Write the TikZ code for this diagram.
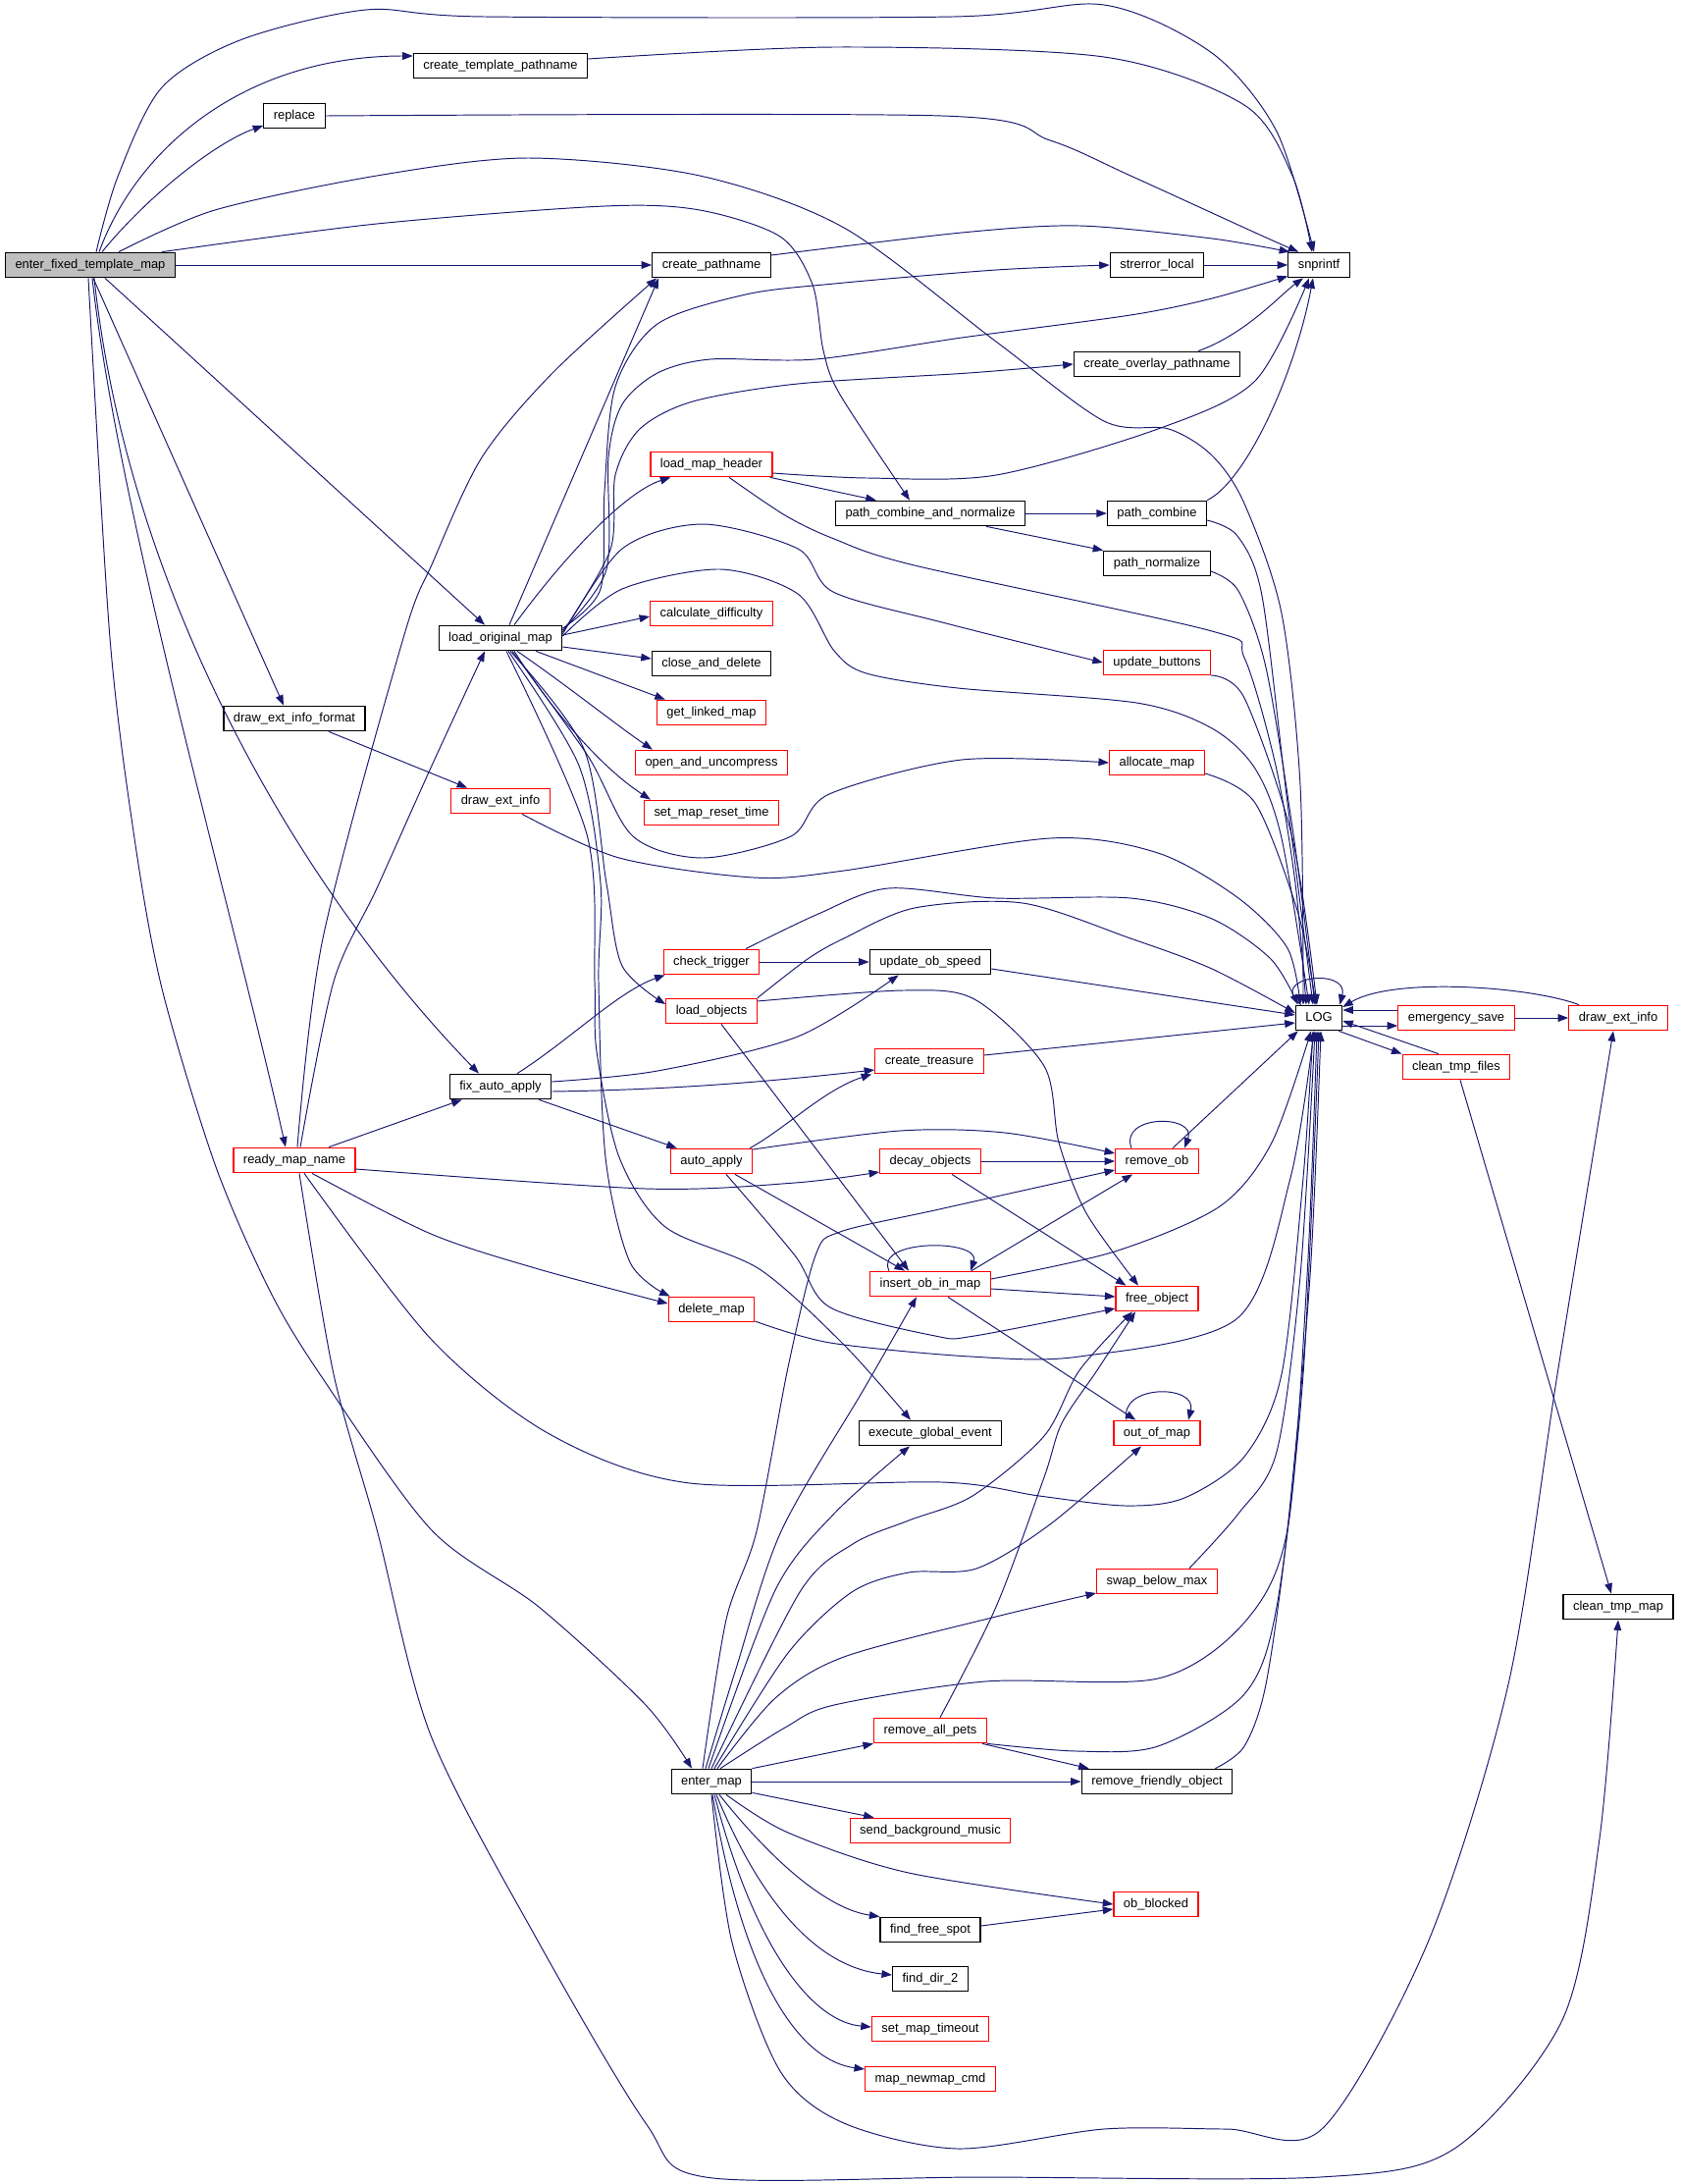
\documentclass[tikz,border=0pt]{standalone}
\usepackage{fontspec}
\setmainfont{Liberation Sans}
\usetikzlibrary{arrows.meta,calc}
\definecolor{edgeblue}{HTML}{191970}
\definecolor{rootgray}{HTML}{BFBFBF}

\begin{document}
\begin{tikzpicture}[x=0.02cm,y=-0.02cm]
    % Styles
    \tikzset{
        fn/.style={rectangle, draw=black, fill=white, line width=0.7pt, inner xsep=0.2cm, inner ysep=0pt, minimum height=0.51cm, text height=5.3pt, text depth=1.5pt, font=\fontsize{7.35}{8.8}\selectfont},
        fnred/.style={fn, draw=red},
        fnroot/.style={fn, fill=rootgray},
        call/.style={draw=edgeblue, line width=0.55pt, -{Triangle[length=6pt,width=4.4pt]}}
    }
    \fill[white] (0,0) rectangle (1712,2225);
    \useasboundingbox (0,0) rectangle (1712,2225);

    % Functions
    \node[fnroot] (eftm) at (92,270) {enter\_fixed\_template\_map};
    \node[fn] (ctp) at (510,67) {create\_template\_pathname};
    \node[fn] (repl) at (300,118) {replace};
    \node[fn] (cpn) at (725,270) {create\_pathname};
    \node[fn] (strl) at (1179,270) {strerror\_local};
    \node[fn] (snpf) at (1344,270) {snprintf};
    \node[fn] (copn) at (1179,371) {create\_overlay\_pathname};
    \node[fnred] (lmh) at (725,473) {load\_map\_header};
    \node[fn] (pcan) at (948,523) {path\_combine\_and\_normalize};
    \node[fn] (pcomb) at (1179,523) {path\_combine};
    \node[fn] (pnorm) at (1179,574) {path\_normalize};
    \node[fn] (lom) at (510,650) {load\_original\_map};
    \node[fnred] (cdiff) at (725,625) {calculate\_difficulty};
    \node[fn] (cad) at (725,676) {close\_and\_delete};
    \node[fnred] (upbtn) at (1179,675) {update\_buttons};
    \node[fn] (deif) at (300,732) {draw\_ext\_info\_format};
    \node[fnred] (glm) at (725,726) {get\_linked\_map};
    \node[fnred] (oau) at (725,777) {open\_and\_uncompress};
    \node[fnred] (amap) at (1179,777) {allocate\_map};
    \node[fnred] (deiL) at (510,816) {draw\_ext\_info};
    \node[fnred] (smrt) at (725,828) {set\_map\_reset\_time};
    \node[fnred] (ctrig) at (725,980) {check\_trigger};
    \node[fn] (uobs) at (948,980) {update\_ob\_speed};
    \node[fnred] (lobj) at (725,1030) {load\_objects};
    \node[fn] (log) at (1344,1037) {LOG};
    \node[fnred] (esave) at (1484,1037) {emergency\_save};
    \node[fnred] (deiR) at (1649,1037) {draw\_ext\_info};
    \node[fnred] (ctreas) at (947,1081) {create\_treasure};
    \node[fnred] (ctf) at (1484,1087) {clean\_tmp\_files};
    \node[fn] (fap) at (510,1107) {fix\_auto\_apply};
    \node[fnred] (rmn) at (300,1182) {ready\_map\_name};
    \node[fnred] (aapp) at (725,1183) {auto\_apply};
    \node[fnred] (dobj) at (948,1183) {decay\_objects};
    \node[fnred] (rob) at (1179,1183) {remove\_ob};
    \node[fnred] (iobm) at (948,1308) {insert\_ob\_in\_map};
    \node[fnred] (fobj) at (1179,1323) {free\_object};
    \node[fnred] (dmap) at (725,1334) {delete\_map};
    \node[fn] (ege) at (948,1460) {execute\_global\_event};
    \node[fnred] (oom) at (1179,1460) {out\_of\_map};
    \node[fnred] (sbm) at (1179,1611) {swap\_below\_max};
    \node[fn] (ctm) at (1649,1637) {clean\_tmp\_map};
    \node[fnred] (rap) at (948,1763) {remove\_all\_pets};
    \node[fn] (emap) at (725,1815) {enter\_map};
    \node[fn] (rfo) at (1179,1815) {remove\_friendly\_object};
    \node[fnred] (sbgm) at (948,1865) {send\_background\_music};
    \node[fnred] (obb) at (1178,1940) {ob\_blocked};
    \node[fn] (ffs) at (948,1966) {find\_free\_spot};
    \node[fn] (fd2) at (948,2016) {find\_dir\_2};
    \node[fnred] (smto) at (948,2067) {set\_map\_timeout};
    \node[fnred] (mnc) at (948,2118) {map\_newmap\_cmd};

    % Calls from enter_fixed_template_map
    \draw[call] plot[smooth] coordinates {($(eftm.north)+(6,0)$) (120,180) (165,89) (247,40) (373,10) (494,17) (971,17) (1125,5) (1235,54) (1301,134) ($(snpf.north)+(-5,0)$)};
    \draw[call] ($(eftm.north)+(9,0)$) .. controls (140,150) and (250,57) .. ($(ctp.west)+(0,-10)$);
    \draw[call] ($(eftm.north)+(12,0)$) .. controls (150,200) and (220,145) .. ($(repl.west)+(0,10)$);
    \draw[call] plot[smooth] coordinates {($(eftm.north)+(29,0)$) (219,214) (384,179) (538,161) (713,179) (860,232) (1015,348) (1125,429) (1191,437) (1235,464) (1268,513) (1306,625) (1325,800) ($(log.north)+(-16,0)$)};
    \draw[call] plot[smooth] coordinates {($(eftm.north)+(73,0)$) (384,228) (616,210) (713,214) (795,241) (828,290) (839,357) (856,402) ($(pcan.north)+(-21,0)$)};
    \draw[call] (eftm.east) -- (cpn.west);
    \draw[call] ($(eftm.south)+(15,0)$) -- ($(lom.north)+(-16,0)$);
    \draw[call] ($(eftm.south)+(3,0)$) -- ($(deif.north)+(-11,0)$);
    \draw[call] ($(eftm.south)+(4,0)$) .. controls (130,600) and (300,900) .. ($(fap.north)+(-22,0)$);
    \draw[call] ($(eftm.south)+(2,0)$) .. controls (120,520) and (240,940) .. ($(rmn.north)+(-9,0)$);
    \draw[call] plot[smooth] coordinates {($(eftm.south)+(-2,0)$) (112,650) (137,854) (165,1007) (219,1186) (274,1313) (326,1400) (439,1558) (549,1637) (658,1737) ($(emap.north)+(-20,0)$)};

    % Calls from ready_map_name
    \draw[call] plot[smooth] coordinates {($(rmn.north)+(3,0)$) (329,956) (411,650) (441,573) (491,466) (563,380) ($(cpn.south west)+(5,0)$)};
    \draw[call] plot[smooth] coordinates {($(rmn.north)+(6,0)$) (340,1000) (384,905) (440,780) ($(lom.south)+(-16,0)$)};
    \draw[call] ($(rmn.north)+(35,0)$) -- ($(fap.south west)+(13,0)$);
    \draw[call] plot[smooth] coordinates {($(rmn.east)+(0,9)$) (658,1211) (810,1205) ($(dobj.west)+(0,11)$)};
    \draw[call] plot[smooth] coordinates {($(rmn.south)+(18,0)$) (439,1257) (549,1293) ($(dmap.west)+(0,-6)$)};
    \draw[call] plot[smooth] coordinates {($(rmn.south)+(10,0)$) (439,1364) (560,1461) (703,1511) (960,1510) (1059,1524) (1147,1534) (1207,1526) (1268,1484) (1306,1400) (1328,1200) ($(log.south)+(-6,0)$)};
    \draw[call] plot[smooth] coordinates {($(rmn.south)+(5,0)$) (340,1400) (384,1558) (439,1768) (549,1979) (658,2163) (719,2218) (1000,2218) (1345,2218) (1482,2189) (1592,2058) (1630,1873) (ctm.south)};

    % Calls from load_original_map
    \draw[call] ($(lom.north)+(9,0)$) -- ($(cpn.south west)+(7,0)$);
    \draw[call] ($(lom.north)+(14,0)$) .. controls (580,560) and (640,500) .. ($(lmh.south west)+(21,0)$);
    \draw[call] plot[smooth] coordinates {($(lom.east)+(0,-10)$) (612,600) (616,501) (627,394) (670,330) (760,300) (850,289) (1015,275) (strl.west)};
    \draw[call] plot[smooth] coordinates {($(lom.east)+(0,-8)$) (618,580) (620,466) (634,412) (670,380) (724,366) (831,366) (980,344) (1152,321) (1235,304) ($(snpf.south west)+(0,-2)$)};
    \draw[call] plot[smooth] coordinates {($(lom.east)+(0,-6)$) (622,560) (627,484) (652,437) (706,409) (813,391) (987,380) (copn.west)};
    \draw[call] plot[smooth] coordinates {($(lom.east)+(0,-4)$) (634,559) (716,534) (813,559) (849,603) (960,634) (upbtn.west)};
    \draw[call] plot[smooth] coordinates {($(lom.east)+(0,-2)$) (634,600) (734,580) (813,605) (850,663) (883,686) (976,701) (1158,716) (1235,742) (1279,783) (1306,854) ($(log.north)+(-10,0)$)};
    \draw[call] ($(lom.east)+(0,-3)$) -- ($(cdiff.west)+(0,3)$);
    \draw[call] ($(lom.east)+(0,9)$) -- ($(cad.west)+(0,-5)$);
    \draw[call] ($(lom.south)+(36,0)$) -- ($(glm.north west)+(9,0)$);
    \draw[call] ($(lom.south)+(17,0)$) .. controls (580,700) and (630,740) .. ($(oau.north west)+(18,0)$);
    \draw[call] ($(lom.south)+(14,0)$) .. controls (560,720) and (610,780) .. ($(smrt.north west)+(7,0)$);
    \draw[call] plot[smooth] coordinates {($(lom.south)+(12,0)$) (599,770) (645,852) (716,874) (806,852) (845,809) (980,774) (amap.west)};
    \draw[call] plot[smooth] coordinates {($(lom.south)+(10,0)$) (595,763) (618,900) (634,984) ($(lobj.west)+(0,-7)$)};
    \draw[call] plot[smooth] coordinates {($(lom.south)+(8,0)$) (590,780) (612,900) (610,1000) (617,1179) (642,1286) ($(dmap.north west)+(2,0)$)};
    \draw[call] plot[smooth] coordinates {($(lom.south)+(6,0)$) (598,850) (606,1000) (608,1071) (631,1179) (678,1250) (774,1293) (860,1370) ($(ege.north)+(-20,0)$)};

    % Calls from load_map_header and the path helpers
    \draw[call] plot[smooth] coordinates {($(lmh.east)+(0,9)$) (884,487) (1015,484) (1180,437) (1279,388) ($(snpf.south)+(-10,0)$)};
    \draw[call] ($(lmh.south east)+(-3,0)$) -- ($(pcan.north west)+(42,0)$);
    \draw[call] plot[smooth] coordinates {($(lmh.south)+(18,0)$) (800,525) (850,549) (932,576) (1235,643) (1268,670) (1300,780) (1320,900) ($(log.north)+(-13,0)$)};
    \draw[call] (pcan.east) -- (pcomb.west);
    \draw[call] ($(pcan.south east)+(-40,0)$) -- (pnorm.north west);
    \draw[call] (pcomb.north east) .. controls (1270,490) and (1320,380) .. ($(snpf.south)+(-6,0)$);
    \draw[call] plot[smooth] coordinates {($(pcomb.east)+(0,7)$) (1261,546) (1286,607) (1311,810) ($(log.north)+(-6,0)$)};
    \draw[call] plot[smooth] coordinates {($(pnorm.east)+(0,8)$) (1262,602) (1290,680) (1318,850) ($(log.north)+(-4,0)$)};
    \draw[call] plot[smooth] coordinates {($(upbtn.east)+(0,13)$) (1268,711) (1317,854) ($(log.north)+(-2,0)$)};
    \draw[call] plot[smooth] coordinates {($(amap.east)+(0,11)$) (1279,818) (1323,931) ($(log.north)+(-3,0)$)};
    \draw[call] (strl.east) -- (snpf.west);
    \draw[call] ($(copn.north)+(42,0)$) .. controls (1270,340) and (1305,300) .. ($(snpf.south)+(-16,0)$);
    \draw[call] plot[smooth] coordinates {($(ctp.east)+(0,-7)$) (850,48) (1125,58) (1268,107) (1317,179) ($(snpf.north)+(-7,0)$)};
    \draw[call] plot[smooth] coordinates {(repl.east) (960,118) (1070,143) (1152,179) (1279,237) ($(snpf.north west)+(11,0)$)};
    \draw[call] plot[smooth] coordinates {($(cpn.east)+(0,-10)$) (980,237) (1100,230) (1235,243) ($(snpf.north west)+(2,0)$)};

    % draw_ext_info_format
    \draw[call] ($(deif.south)+(35,0)$) -- ($(deiL.north west)+(17,0)$);
    \draw[call] plot[smooth] coordinates {($(deiL.south)+(22,0)$) (631,874) (768,894) (860,887) (1070,854) (1180,869) (1262,915) (1312,966) ($(log.north)+(-19,0)$)};

    % check_trigger, load_objects, fix_auto_apply
    \draw[call] (ctrig.east) -- (uobs.west);
    \draw[call] plot[smooth] coordinates {($(ctrig.north)+(35,0)$) (834,931) (905,905) (1015,915) (1152,915) (1235,936) (1295,977) ($(log.north west)+(3,0)$)};
    \draw[call] plot[smooth] coordinates {(lobj.north east) (823,977) (860,956) (932,925) (1042,920) (1152,956) (1235,987) ($(log.west)+(0,-5)$)};
    \draw[call] plot[smooth] coordinates {($(lobj.east)+(0,-10)$) (920,1009) (993,1018) (1064,1086) (1079,1164) (1107,1236) ($(fobj.north)+(-19,0)$)};
    \draw[call] ($(lobj.south)+(10,0)$) -- ($(iobm.north west)+(40,0)$);
    \draw[call] ($(uobs.east)+(0,7)$) -- ($(log.west)+(0,-3)$);
    \draw[call] ($(ctreas.east)+(0,-6)$) -- ($(log.west)+(0,5)$);
    \draw[call] ($(fap.north)+(17,0)$) .. controls (580,1060) and (630,1010) .. ($(ctrig.south west)+(2,0)$);
    \draw[call] plot[smooth] coordinates {($(fap.east)+(0,-5)$) (670,1091) (813,1056) ($(uobs.south west)+(30,0)$)};
    \draw[call] ($(fap.east)+(0,5)$) .. controls (700,1110) and (800,1100) .. ($(ctreas.west)+(0,9)$);
    \draw[call] ($(fap.south east)+(-13,0)$) -- ($(aapp.north west)+(7,0)$);

    % auto_apply, decay_objects, remove_ob
    \draw[call] ($(aapp.north east)+(-3,0)$) .. controls (800,1150) and (840,1110) .. ($(ctreas.south west)+(-3,0)$);
    \draw[call] plot[smooth] coordinates {($(aapp.east)+(0,-12)$) (917,1152) (1024,1154) ($(rob.west)+(0,-8)$)};
    \draw[call] ($(aapp.south)+(24,0)$) -- ($(iobm.north west)+(36,0)$);
    \draw[call] plot[smooth] coordinates {($(aapp.south)+(15,0)$) (810,1279) (846,1332) (953,1361) (993,1361) ($(fobj.west)+(0,10)$)};
    \draw[call] (dobj.east) -- (rob.west);
    \draw[call] ($(dobj.south)+(22,0)$) -- ($(fobj.north west)+(11,0)$);
    \draw[call] ($(rob.north)+(16,0)$) -- ($(log.south west)+(3,0)$);
    \draw[call] ($(rob.north)+(-26,0)$) .. controls (1140,1135) and (1220,1135) .. ($(rob.north)+(28,0)$);

    % insert_ob_in_map, delete_map, out_of_map, swap_below_max
    \draw[call] ($(iobm.north)+(-42,0)$) .. controls (890,1262) and (1000,1262) .. ($(iobm.north)+(41,0)$);
    \draw[call] ($(iobm.north east)+(-20,0)$) -- ($(rob.south west)+(18,0)$);
    \draw[call] plot[smooth] coordinates {($(iobm.east)+(0,-5)$) (1136,1275) (1243,1229) (1296,1164) ($(log.south)+(-8,0)$)};
    \draw[call] ($(iobm.east)+(0,5)$) -- ($(fobj.west)+(0,-2)$);
    \draw[call] ($(iobm.south)+(18,0)$) -- ($(oom.north west)+(23,0)$);
    \draw[call] plot[smooth] coordinates {($(dmap.east)+(0,12)$) (846,1368) (989,1382) (1100,1382) (1261,1343) (1315,1200) ($(log.south)+(-5,0)$)};
    \draw[call] ($(oom.north)+(-31,0)$) .. controls (1140,1410) and (1220,1410) .. ($(oom.north)+(32,0)$);
    \draw[call] plot[smooth] coordinates {($(sbm.north)+(33,0)$) (1262,1542) (1301,1479) (1325,1300) ($(log.south)+(-4,0)$)};

    % Calls from enter_map
    \draw[call] plot[smooth] coordinates {($(emap.north)+(-9,0)$) (740,1650) (771,1560) (803,1393) (831,1279) (856,1255) (957,1232) ($(rob.west)+(0,9)$)};
    \draw[call] plot[smooth] coordinates {($(emap.north)+(-6,0)$) (750,1700) (796,1560) (881,1414) ($(iobm.south)+(-14,0)$)};
    \draw[call] plot[smooth] coordinates {($(emap.north)+(-3,0)$) (790,1620) (850,1542) ($(ege.south)+(-21,0)$)};
    \draw[call] plot[smooth] coordinates {(emap.north) (815,1622) (869,1573) (926,1549) (991,1524) (1064,1463) (1100,1396) ($(fobj.south)+(-25,0)$)};
    \draw[call] plot[smooth] coordinates {($(emap.north)+(3,0)$) (803,1684) (868,1622) (926,1602) (995,1598) (1070,1553) ($(oom.south)+(-16,0)$)};
    \draw[call] plot[smooth] coordinates {($(emap.north)+(6,0)$) (790,1730) (860,1688) (1015,1647) ($(sbm.west)+(0,12)$)};
    \draw[call] plot[smooth] coordinates {($(emap.north)+(9,0)$) (800,1760) (850,1737) (1004,1713) (1180,1710) (1268,1653) (1312,1558) (1332,1300) ($(log.south)+(-2,0)$)};
    \draw[call] (emap.north east) -- (rap.south west);
    \draw[call] (emap.east) -- (rfo.west);
    \draw[call] ($(emap.south east)+(0,-2)$) -- ($(sbgm.north west)+(25,0)$);
    \draw[call] plot[smooth] coordinates {($(emap.south)+(15,0)$) (803,1867) (926,1908) (obb.west)};
    \draw[call] ($(emap.south)+(8,0)$) .. controls (790,1900) and (845,1945) .. (ffs.north west);
    \draw[call] ($(emap.south)+(5,0)$) .. controls (780,1950) and (840,2005) .. ($(fd2.west)+(0,-4)$);
    \draw[call] ($(emap.south)+(3,0)$) .. controls (770,1990) and (830,2060) .. ($(smto.west)+(0,-2)$);
    \draw[call] ($(emap.south)+(1,0)$) .. controls (760,2030) and (820,2100) .. ($(mnc.west)+(0,-10)$);
    \draw[call] plot[smooth] coordinates {(emap.south) (746,1979) (795,2110) (860,2163) (976,2189) (1125,2169) (1250,2169) (1347,2169) (1455,1979) (1537,1716) (1587,1400) ($(deiR.south)+(-5,0)$)};

    % remove_all_pets, remove_friendly_object, find_free_spot
    \draw[call] plot[smooth] coordinates {($(rap.north)+(10,0)$) (1015,1637) (1064,1505) (1082,1450) (1118,1396) ($(fobj.south)+(-22,0)$)};
    \draw[call] ($(rap.south east)+(-5,0)$) -- ($(rfo.north west)+(8,0)$);
    \draw[call] plot[smooth] coordinates {(rap.south east) (1097,1784) (1180,1779) (1268,1726) (1301,1637) (1328,1400) (log.south)};
    \draw[call] plot[smooth] coordinates {($(rfo.north east)+(-18,0)$) (1268,1779) (1290,1716) (1312,1558) (1335,1300) ($(log.south)+(2,0)$)};
    \draw[call] ($(ffs.east)+(0,-4)$) -- ($(obb.west)+(0,5)$);

    % LOG and its neighbours
    \draw[call] ($(log.north west)+(6,0)$) .. controls (1290,995) and (1375,985) .. ($(log.north east)+(-3,0)$);
    \draw[call] ($(log.east)+(0,8)$) -- ($(esave.west)+(0,8)$);
    \draw[call] ($(esave.west)+(0,-8)$) -- ($(log.east)+(0,-8)$);
    \draw[call] ($(ctf.north)+(-18,0)$) -- ($(log.east)+(0,3)$);
    \draw[call] ($(log.south east)+(-4,0)$) -- ($(ctf.north west)+(0,0)$);
    \draw[call] ($(deiR.north)+(-40,0)$) .. controls (1560,1005) and (1420,995) .. ($(log.east)+(0,-11)$);
    \draw[call] (esave.east) -- (deiR.west);
    \draw[call] ($(ctf.south)+(4,0)$) -- ($(ctm.north)+(-7,0)$);
\end{tikzpicture}
\end{document}
